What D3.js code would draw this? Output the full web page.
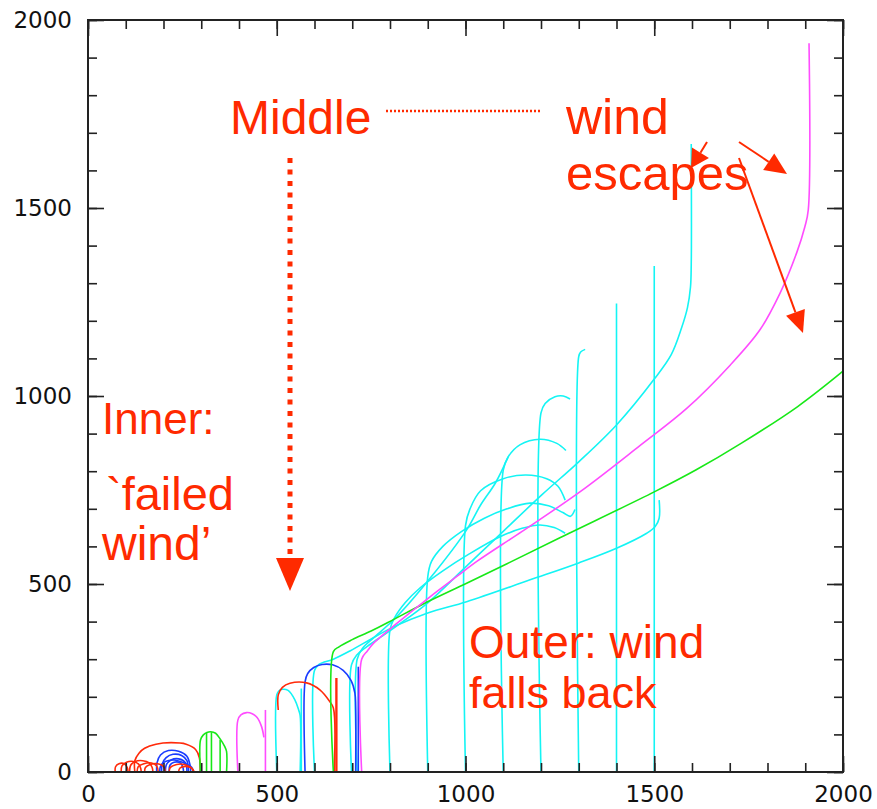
<!DOCTYPE html>
<html>
<head>
<meta charset="utf-8">
<script src="https://cdn.jsdelivr.net/npm/d3@7"></script>
<style>
  body { margin: 0; background: #fff; }
  svg { display: block; }
  .tick text { font-family: "DejaVu Sans", sans-serif; font-size: 23px; fill: #111; }
  .note { font-family: "Liberation Sans", Arial, sans-serif; fill: #ff2a00; }
</style>
</head>
<body>
<svg id="chart" width="877" height="809"></svg>
<script>
// axis ticks
var majorTicks = [0, 500, 1000, 1500, 2000];
var minorTicks = d3.range(0, 2001, 100);

// trajectories (R, z), one list per colour
var redTracks = [
  [[124,0],[124,30],[135,50],[150,63],[180,74],[220,78],[260,74],[285,60],[295,38],[297,0]],
  [[72,0],[73,14],[82,22],[96,22],[104,12],[106,0]],
  [[88,0],[90,16],[102,26],[120,28],[135,20],[140,8],[141,0]],
  [[110,0],[113,18],[125,28],[145,30],[162,24],[170,12],[172,0]],
  [[130,0],[133,14],[148,22],[168,24],[182,16],[186,0]],
  [[150,0],[152,12],[165,20],[185,22],[200,15],[205,0]],
  [[215,0],[218,12],[235,20],[255,20],[272,12],[282,0]],
  [[240,0],[243,10],[258,15],[275,10],[280,0]],
  [[504,165],[504,205],[515,225],[535,236],[579,237],[615,218],[640,188],[650,170],[652,0]],
  [[657,0],[657,250]],
  [[659,0],[659,250]]
];

var greenTracks = [
  [[298,0],[298,85],[305,98],[315,105],[325,107],[338,103],[350,88],[362,68],[367,55],[367,0]],
  [[314,0],[314,104]],
  [[327,0],[327,106]],
  [[350,0],[350,86]],
  [[650,0],[650,320],[665,333],[700,352],[750,375],[810,406],[888,447],[1003,502],[1110,554],[1250,623],[1500,745],[1610,803],[1730,874],[1880,972],[2000,1066]]
];

var blueTracks = [
  [[182,0],[183,25],[192,45],[213,57],[240,55],[262,42],[270,20],[272,0]],
  [[195,0],[197,22],[207,38],[225,47],[248,44],[262,30],[266,0]],
  [[205,0],[208,20],[220,32],[240,35],[258,25],[262,0]],
  [[190,0],[192,15],[205,28],[228,32],[250,26],[275,12],[279,0]],
  [[215,0],[217,18],[228,26],[245,24],[252,10],[253,0]],
  [[575,0],[575,240],[582,262],[598,278],[620,286],[648,285],[676,270],[697,243],[707,210],[709,175],[709,0]],
  [[716,0],[716,280]]
];

var cyanTracks = [
  [[500,0],[500,205],[506,216],[515,220],[530,217],[548,192],[558,165],[562,150],[562,0]],
  [[565,0],[565,222]],
  // lowest one, hooks up near 1500
  [[600,0],[600,270],[612,286],[650,300],[694,322],[756,357],[809,386],[900,423],[1003,453],[1171,511],[1300,556],[1400,595],[1480,635],[1502,652],[1513,675],[1513,723]],
  // escapes, vertical at 1600
  [[698,0],[698,285],[712,311],[738,333],[770,355],[820,390],[900,450],[1000,545],[1100,640],[1202,737],[1300,825],[1400,923],[1500,1045],[1545,1110],[1572,1180],[1588,1235],[1596,1290],[1598,1350],[1598,1670]],
  [[713,0],[713,300],[728,330],[760,360],[818,413],[906,515],[1003,644],[1040,710],[1080,770],[1113,838]],
  [[800,0],[800,378],[812,410],[840,450],[880,490],[940,535],[1010,580],[1090,625],[1150,648],[1197,657],[1235,650],[1264,635]],
  [[900,0],[900,519],[910,560],[940,600],[990,640],[1050,675],[1110,700],[1171,715],[1220,708],[1258,690],[1278,680],[1290,698]],
  [[1000,0],[1000,655],[1012,700],[1040,748],[1100,780],[1160,790],[1215,780],[1245,760],[1264,723]],
  [[1100,0],[1100,803],[1113,838],[1144,870],[1197,885],[1242,874],[1266,855]],
  [[1200,0],[1200,955],[1211,980],[1237,998],[1259,1000],[1277,992]],
  [[1300,0],[1300,1105],[1305,1117],[1317,1124]],
  [[1400,0],[1400,1246]],
  [[1500,0],[1500,1346]]
];

var magentaTracks = [
  [[397,0],[397,138],[405,152],[420,158],[435,155],[448,145],[460,120],[466,92]],
  [[470,0],[470,165]],
  [[725,0],[725,300],[740,322],[756,342],[818,395],[906,466],[977,520],[1030,560],[1150,640],[1303,745],[1462,868],[1586,967],[1701,1082],[1780,1176],[1833,1273],[1877,1380],[1899,1450],[1908,1495],[1910,1938]]
];

var svg = d3.select("#chart");
var x = d3.scaleLinear().domain([0, 2000]).range([88, 843]);
var y = d3.scaleLinear().domain([0, 2000]).range([772, 20]);

var line = d3.line()
  .x(function(d) { return x(d[0]); })
  .y(function(d) { return y(d[1]); })
  .curve(d3.curveCatmullRom.alpha(0.5));

function drawTracks(tracks, colour) {
  svg.append("g")
    .selectAll("path")
    .data(tracks)
    .enter()
    .append("path")
    .attr("d", line)
    .attr("fill", "none")
    .attr("stroke", colour)
    .attr("stroke-width", 1.6);
}

drawTracks(cyanTracks, "#14f4f4");
drawTracks(blueTracks, "#1a3cff");
drawTracks(redTracks, "#ff2a0a");
drawTracks(greenTracks, "#18e818");
drawTracks(magentaTracks, "#ff4cff");

// frame + inward ticks on all four sides
function styleAxis(g) {
  g.select(".domain").remove();
  g.selectAll(".tick line").attr("stroke", "#222").attr("stroke-width", 1.6);
}

svg.append("g").attr("transform", "translate(0,772)")
  .call(d3.axisBottom(x).tickValues(minorTicks).tickSize(-9).tickFormat(""))
  .call(styleAxis);
svg.append("g").attr("transform", "translate(0,772)")
  .call(d3.axisBottom(x).tickValues(majorTicks).tickSizeInner(-16).tickSizeOuter(0).tickPadding(14).tickFormat(d3.format("d")))
  .call(styleAxis);
svg.append("g").attr("transform", "translate(0,20)")
  .call(d3.axisTop(x).tickValues(minorTicks).tickSize(-9).tickFormat(""))
  .call(styleAxis);
svg.append("g").attr("transform", "translate(0,20)")
  .call(d3.axisTop(x).tickValues(majorTicks).tickSize(-16).tickFormat(""))
  .call(styleAxis);
svg.append("g").attr("transform", "translate(88,0)")
  .call(d3.axisLeft(y).tickValues(minorTicks).tickSize(-9).tickFormat(""))
  .call(styleAxis);
svg.append("g").attr("transform", "translate(88,0)")
  .call(d3.axisLeft(y).tickValues(majorTicks).tickSizeInner(-16).tickSizeOuter(0).tickPadding(16).tickFormat(d3.format("d")))
  .call(styleAxis);
svg.append("g").attr("transform", "translate(843,0)")
  .call(d3.axisRight(y).tickValues(minorTicks).tickSize(-9).tickFormat(""))
  .call(styleAxis);
svg.append("g").attr("transform", "translate(843,0)")
  .call(d3.axisRight(y).tickValues(majorTicks).tickSize(-16).tickFormat(""))
  .call(styleAxis);

svg.append("rect")
  .attr("x", 88).attr("y", 20).attr("width", 755).attr("height", 752)
  .attr("fill", "none").attr("stroke", "#222").attr("stroke-width", 2);

// annotations
var red = "#ff2a00";
function note(px, py, size, txt) {
  svg.append("text").attr("class", "note")
    .attr("x", px).attr("y", py).style("font-size", size + "px").text(txt);
}
note(230, 134, 48, "Middle");
note(566, 134, 50, "wind");
note(566, 190, 49, "escapes");
note(102, 434, 44, "Inner:");
note(106, 510, 47, "`failed");
note(102, 560, 48, "wind\u2019");
note(469, 658, 46, "Outer: wind");
note(469, 708, 45, "falls back");

svg.append("line")
  .attr("x1", 386).attr("y1", 111).attr("x2", 540).attr("y2", 111)
  .attr("stroke", red).attr("stroke-width", 2.5).attr("stroke-dasharray", "2,2");

svg.append("line")
  .attr("x1", 290).attr("y1", 158).attr("x2", 290).attr("y2", 558)
  .attr("stroke", red).attr("stroke-width", 5).attr("stroke-dasharray", "5,6.5");
svg.append("path")
  .attr("d", "M276,558L304,558L290,591Z")
  .attr("fill", red);

function arrow(x1, y1, x2, y2, len, half) {
  var a = Math.atan2(y2 - y1, x2 - x1);
  var bx = x2 - len * Math.cos(a), by = y2 - len * Math.sin(a);
  svg.append("line")
    .attr("x1", x1).attr("y1", y1).attr("x2", bx).attr("y2", by)
    .attr("stroke", red).attr("stroke-width", 2);
  var px = -Math.sin(a) * half, py = Math.cos(a) * half;
  svg.append("path")
    .attr("d", "M" + x2 + "," + y2 + "L" + (bx + px) + "," + (by + py) + "L" + (bx - px) + "," + (by - py) + "Z")
    .attr("fill", red);
}
arrow(707, 142, 691, 168, 18, 10);
arrow(739, 142, 787, 174, 22, 10);
arrow(739, 158, 803, 333, 22, 10);
</script>
</body>
</html>
